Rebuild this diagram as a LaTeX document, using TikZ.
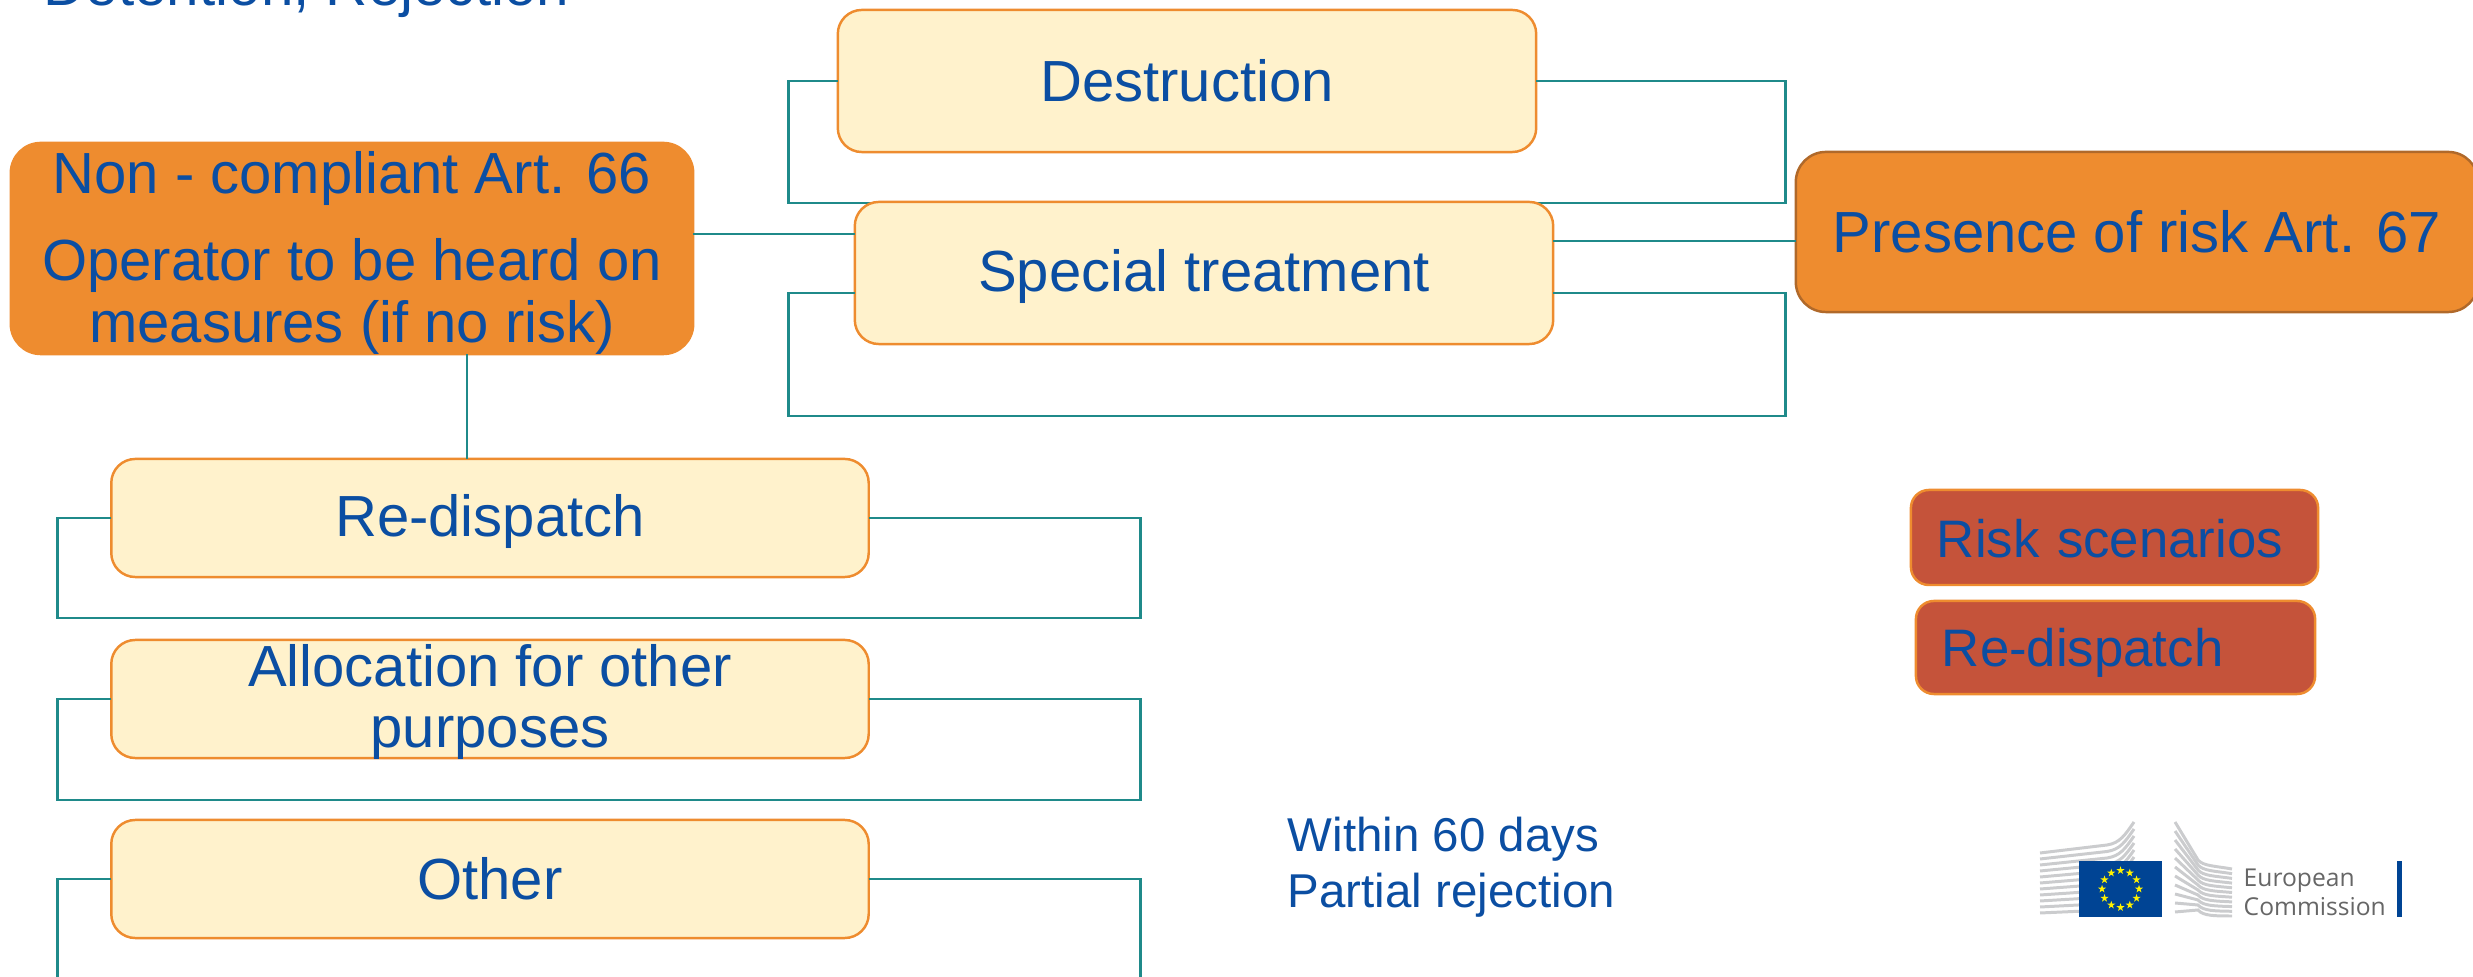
\documentclass[tikz,border=0pt]{standalone}
\usepackage{fontspec}
\setmainfont{Liberation Sans}
\newfontfamily\logofont{Open Sans}
\usetikzlibrary{shapes.geometric}

\definecolor{euroblue}{HTML}{0B4EA2}
\definecolor{flagblue}{HTML}{004494}
\definecolor{boxorange}{HTML}{EE8C2F}
\definecolor{boxcream}{HTML}{FFF2CC}
\definecolor{riskedge}{HTML}{B0692A}
\definecolor{brick}{HTML}{C5533A}
\definecolor{linkteal}{HTML}{1F8A8A}
\definecolor{stripegrey}{HTML}{CBCCCE}

\newcommand{\firstline}{\rule{0pt}{14.3pt}}

\tikzset{
  measure/.style={rectangle, rounded corners=0.24cm, draw=boxorange, fill=boxcream, line width=0.7pt,
    inner sep=0pt, outer sep=0pt, align=center, text=euroblue, font=\fontsize{16.5}{17.4}\selectfont,
    execute at begin node={\rule{0pt}{14pt}}, execute at end node={\rule[-2.6pt]{0pt}{2.6pt}}},
  article/.style={measure, rounded corners=0.3cm, fill=boxorange},
  scenario/.style={measure, rounded corners=0.18cm, fill=brick, align=left, inner xsep=0.26cm,
    font=\fontsize{15}{17}\selectfont},
  boxtext/.style={inner sep=0pt, align=center, text=euroblue, font=\fontsize{16.5}{17.4}\selectfont},
  bracket/.style={draw=linkteal, line width=0.8pt},
  link/.style={draw=linkteal, line width=0.35pt},
  note/.style={text=euroblue, align=left, inner sep=0pt},
  stripe/.style={draw=stripegrey, line width=0.85pt}
}

\begin{document}
\begin{tikzpicture}[x=0.01cm, y=-0.01cm]

\clip (0,0) rectangle (2473,977);

\draw (43,6) node (title) [note, anchor=base west, font=\fontsize{16.6}{18}\selectfont] {Detention, Rejection};

\draw (352,248.5) node (noncompliant) [article, minimum width=6.82cm, minimum height=2.11cm] {\firstline Non - compliant Art. 66\\[7.5pt]Operator to be heard on\\measures (if no risk)};

\draw (1187,81) node (destruction) [measure, minimum width=6.98cm, minimum height=1.42cm] {Destruction};
\draw [bracket] (destruction.west) -- +(-49,0) -- +(-49,122) -- +(948,122) -- +(948,0) -- (destruction.east);

\draw (1204,273) node (special) [measure, minimum width=6.98cm, minimum height=1.42cm] {Special treatment};
\draw [bracket] (special.west |- 0,293) -- +(-66,0) -- +(-66,123) -- +(931,123) -- +(931,0) -- (special.east |- 0,293);

\draw (2137,232) node (presence) [article, draw=riskedge, minimum width=6.82cm, minimum height=1.6cm] {Presence of risk Art. 67};

\coordinate (leftlink) at (0,234);
\coordinate (rightlink) at (0,241);
\draw [link] (noncompliant.east |- leftlink) -- (special.west |- leftlink);
\draw [link] (special.east |- rightlink) -- (presence.west |- rightlink);

\draw (490,518) node (redispatch) [measure, minimum width=7.57cm, minimum height=1.18cm] {Re-dispatch};
\draw [bracket] (redispatch.west) -- +(-54,0) -- +(-54,100) -- +(1029,100) -- +(1029,0) -- (redispatch.east);

\draw [link] (noncompliant.south -| 467,0) -- (redispatch.north -| 467,0);

\draw (490,699) node (allocation) [measure, minimum width=7.57cm, minimum height=1.18cm] {};
\draw (allocation) ++(0,3) node (allocationtext) [boxtext] {Allocation for other\\purposes};
\draw [bracket] (allocation.west) -- +(-54,0) -- +(-54,101) -- +(1029,101) -- +(1029,0) -- (allocation.east);

\draw (490,879) node (other) [measure, minimum width=7.57cm, minimum height=1.18cm] {Other};
\draw [bracket] (other.west) -- +(-54,0) -- +(-54,120) coordinate (a);
\draw [bracket] (other.east) -- +(272,0) -- +(272,120) coordinate (b);

\draw (2114.5,537.5) node (riskscenarios) [scenario, text width=3.55cm, minimum height=0.95cm] {Risk scenarios};
\draw (2115.5,647.5) node (riskdispatch) [scenario, text width=3.47cm, minimum height=0.93cm] {Re-dispatch};

\draw (1287,867) node (within) [note, anchor=west, font=\fontsize{13.5}{16}\selectfont] {Within 60 days\\Partial rejection};

\foreach \i in {0,...,10} {
  \draw [stripe] (2040,853+6*\i) -- (2107,845+6.5*\i) .. controls (2120,843+6.5*\i) and (2125,835+7*\i) .. (2134,822+7*\i);
  \draw [stripe] (2175,822+9*\i) -- (2198,860+5*\i) .. controls (2203,866+5*\i) and (2215,866+5*\i) .. (2232,869+4.7*\i);
}

\fill [flagblue] (2079,861) rectangle (2162,917);
\coordinate (flag) at (2120.5,889);
\foreach \a in {0,30,...,330} {
  \draw (flag) ++(\a:18.5) node (star\a) [star, star points=5, star point ratio=2.6, fill=yellow, inner sep=0pt, minimum size=0.085cm] {};
}

\draw (2243,887) node (european) [anchor=base west, inner sep=0pt, text=black!60, font=\logofont\fontsize{7}{8}\selectfont] {European};
\draw (2243,916) node (commission) [anchor=base west, inner sep=0pt, text=black!60, font=\logofont\fontsize{7}{8}\selectfont] {Commission};
\fill [flagblue] (2397,861) rectangle (2402,917);

\end{tikzpicture}
\end{document}
